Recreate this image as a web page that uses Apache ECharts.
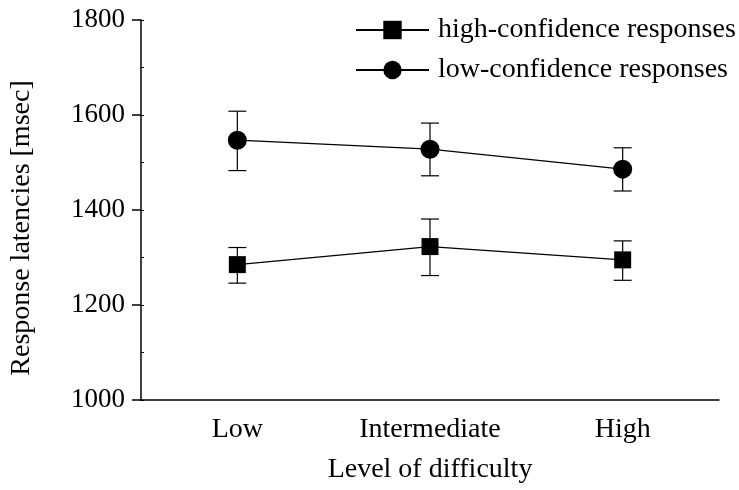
<!DOCTYPE html>
<html><head><meta charset="utf-8">
<script src="https://cdn.jsdelivr.net/npm/echarts@6/dist/echarts.min.js"></script>
<style>html,body{margin:0;padding:0;background:#fff}#c{width:739px;height:490px}</style>
</head><body><div id="c"></div>
<script>
const categories = ['Low', 'Intermediate', 'High'];
const highConf = [1285, 1323, 1295];
const highConfUpper = [1321, 1381, 1335];
const highConfLower = [1246, 1262, 1252];
const lowConf = [1547, 1528, 1486];
const lowConfUpper = [1608, 1583, 1531];
const lowConfLower = [1483, 1472, 1440];
const yTicks = [1000, 1200, 1400, 1600, 1800];

const FONT = '"Liberation Serif", "Times New Roman", serif';
const FS = 28;

function errSeries(upper, lower) {
  return {
    type: 'custom', xAxisIndex: 0, yAxisIndex: 0, silent: true, z: 1,
    data: categories.map((c, i) => [i, lower[i], upper[i]]),
    renderItem: function (params, api) {
      const x = api.value(0);
      const lo = api.coord([x, api.value(1)]);
      const hi = api.coord([x, api.value(2)]);
      const hw = 9;
      const st = { stroke: '#000', lineWidth: 1.2 };
      return { type: 'group', children: [
        { type: 'line', shape: { x1: lo[0], y1: lo[1], x2: hi[0], y2: hi[1] }, style: st },
        { type: 'line', shape: { x1: hi[0] - hw, y1: hi[1], x2: hi[0] + hw, y2: hi[1] }, style: st },
        { type: 'line', shape: { x1: lo[0] - hw, y1: lo[1], x2: lo[0] + hw, y2: lo[1] }, style: st }
      ]};
    }
  };
}

const chart = echarts.init(document.getElementById('c'), null, { renderer: 'canvas' });
chart.setOption({
  animation: false,
  backgroundColor: '#fff',
  textStyle: { fontFamily: FONT },
  grid: { left: 141, right: 20, top: 20, bottom: 90, containLabel: false },
  legend: {
    orient: 'vertical', left: 355, top: 16, padding: 0, itemGap: 12,
    itemWidth: 73, itemHeight: 23,
    textStyle: { fontFamily: FONT, fontSize: FS, lineHeight: 24, color: '#000', padding: [0, 0, 0, 4] },
    data: ['high-confidence responses', 'low-confidence responses']
  },
  xAxis: [
    { type: 'category', data: categories, boundaryGap: true,
      axisLine: { lineStyle: { color: '#000', width: 1.5 } },
      axisTick: { alignWithLabel: true, length: 9, lineStyle: { color: '#000', width: 1.5 } },
      axisLabel: { color: '#000', fontSize: FS, fontFamily: FONT, margin: 16 },
      splitLine: { show: false } },
    { type: 'category', data: categories, boundaryGap: true, position: 'bottom',
      axisLine: { show: false },
      axisTick: { inside: true, length: 3, lineStyle: { color: '#000', width: 1 } },
      axisLabel: { show: false }, splitLine: { show: false } }
  ],
  yAxis: [
    { type: 'value', min: yTicks[0], max: yTicks[yTicks.length - 1], interval: 200,
      axisLine: { show: true, lineStyle: { color: '#000', width: 1.5 } },
      axisTick: { show: true, length: 9, lineStyle: { color: '#000', width: 1.5 } },
      axisLabel: { color: '#000', fontSize: 27, fontFamily: FONT, margin: 16, formatter: v => String(v) },
      splitLine: { show: false } },
    { type: 'value', min: yTicks[0], max: yTicks[yTicks.length - 1], interval: 100, position: 'left',
      axisLine: { show: false },
      axisTick: { show: true, inside: true, length: 3, lineStyle: { color: '#000', width: 1 } },
      axisLabel: { show: false }, splitLine: { show: false } }
  ],
  graphic: [
    { type: 'text', x: 22, y: 228, rotation: Math.PI / 2,
      style: { text: 'Response latencies [msec]', font: FS + 'px ' + FONT, fill: '#000', align: 'center', verticalAlign: 'middle' } },
    { type: 'text', x: 430, y: 470,
      style: { text: 'Level of difficulty', font: FS + 'px ' + FONT, fill: '#000', align: 'center', verticalAlign: 'middle' } }
  ],
  series: [
    errSeries(highConfUpper, highConfLower),
    errSeries(lowConfUpper, lowConfLower),
    { name: 'high-confidence responses', type: 'line', data: highConf,
      symbol: 'rect', symbolSize: 17, z: 3,
      lineStyle: { color: '#000', width: 1.2 }, itemStyle: { color: '#000' } },
    { name: 'low-confidence responses', type: 'line', data: lowConf,
      symbol: 'circle', symbolSize: 19, z: 3,
      lineStyle: { color: '#000', width: 1.2 }, itemStyle: { color: '#000' } }
  ]
});
</script></body></html>
